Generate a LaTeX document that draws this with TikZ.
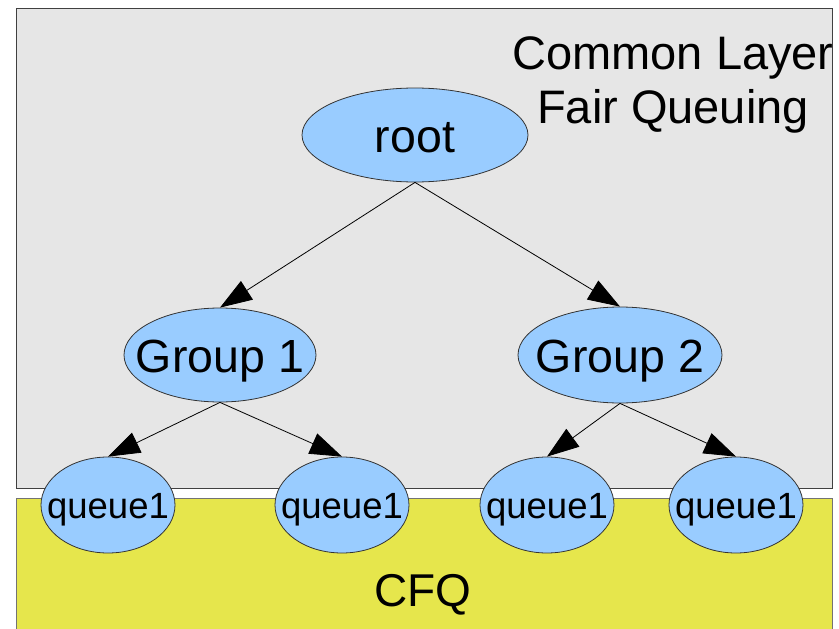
\documentclass[tikz,border=0pt]{standalone}
\usepackage{fontspec}
\setmainfont{Liberation Sans}
\usetikzlibrary{shapes.geometric,arrows.meta}
\definecolor{boxgray}{HTML}{E6E6E6}
\definecolor{boxyellow}{HTML}{E6E64C}
\definecolor{nodeblue}{HTML}{99CCFF}
\begin{document}
\begin{tikzpicture}[x=1pt,y=-1pt,
  bignode/.style={ellipse,draw=black!80,fill=nodeblue,inner xsep=-30pt,inner ysep=0pt,line width=0.8pt,text height=34pt,text depth=0pt,font=\fontsize{46.5}{50}\selectfont},
  qnode/.style={ellipse,draw=black!80,fill=nodeblue,inner xsep=-30pt,inner ysep=0pt,line width=0.8pt,minimum width=134pt,minimum height=96pt,text height=26pt,text depth=0pt,font=\fontsize{36.5}{40}\selectfont},
  link/.style={draw=black,line width=0.8pt,-{Triangle[length=32pt,width=22pt]}}]
\useasboundingbox (0,0) rectangle (839,629);
\fill[white] (0,0) rectangle (839,629);
\draw[fill=boxgray,draw=black!75,line width=1pt] (16,8) rectangle (832,488);
\draw[fill=boxyellow,draw=black!55,line width=1pt] (16,498) rectangle (832,640);
\node[align=center,font=\fontsize{47}{54}\selectfont,text depth=0pt] (title) at (673,80) {Common Layer\\Fair Queuing};
\node[font=\fontsize{46}{50}\selectfont] (cfq) at (423,595) {CFQ};
\node[bignode,minimum width=226pt,minimum height=94pt] (root) at (415,135) {root};
\node[bignode,minimum width=192pt,minimum height=94pt] (g1) at (220,355) {Group 1};
\node[bignode,minimum width=204pt,minimum height=96pt] (g2) at (620,355) {Group 2};
\node[qnode] (q1) at (108,505) {queue1};
\node[qnode] (q2) at (342,505) {queue1};
\node[qnode] (q3) at (547,505) {queue1};
\node[qnode] (q4) at (736,505) {queue1};
\draw[link] (root.south) -- (g1.north);
\draw[link] (root.south) -- (g2.north);
\draw[link] (g1.south) -- (q1.north);
\draw[link] (g1.south) -- (q2.north);
\draw[link] (g2.south) -- (q3.north);
\draw[link] (g2.south) -- (q4.north);
\end{tikzpicture}
\end{document}
